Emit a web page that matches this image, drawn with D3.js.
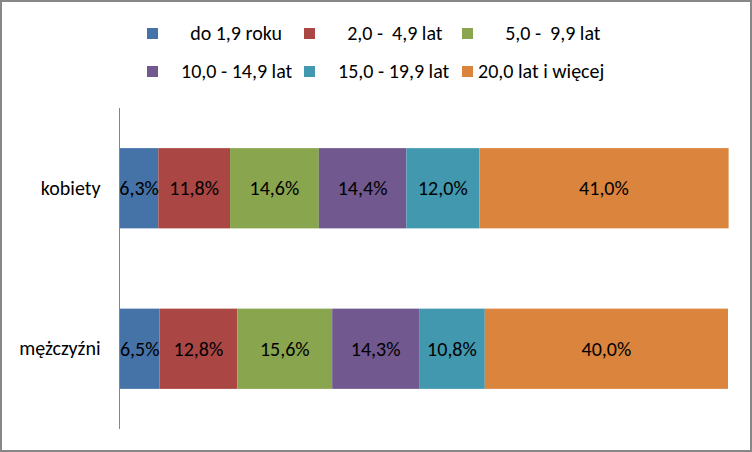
<!DOCTYPE html>
<html><head><meta charset="utf-8">
<script src="https://cdn.jsdelivr.net/npm/d3@7"></script>
<style>
html,body{margin:0;padding:0;background:#fff;}
svg text{font-family:Carlito, Calibri, Lato, sans-serif;white-space:pre;}
</style></head>
<body><svg id="c" width="752" height="452"></svg>
<script>
const categories = ["kobiety", "mężczyźni"];
const seriesNames = ["do 1,9 roku", "2,0 -  4,9 lat", "5,0 -  9,9 lat", "10,0 - 14,9 lat", "15,0 - 19,9 lat", "20,0 lat i więcej"];
const legendLabels = ["      do 1,9 roku", "      2,0 -  4,9 lat", "      5,0 -  9,9 lat", "    10,0 - 14,9 lat", "    15,0 - 19,9 lat", "20,0 lat i więcej"];
const kobiety = [6.3, 11.8, 14.6, 14.4, 12.0, 41.0];
const mezczyzni = [6.5, 12.8, 15.6, 14.3, 10.8, 40.0];
const colors = ["#4572A7", "#AA4643", "#89A54E", "#71588F", "#4198AF", "#DB843D"];

const values = [kobiety, mezczyzni];
const svg = d3.select("#c");
const W = 752, H = 452;
const FS = "20px";

svg.append("rect").attr("x",1).attr("y",1).attr("width",W-2).attr("height",H-2)
  .attr("fill","#fff").attr("stroke","#878787").attr("stroke-width",2);

const x = d3.scaleLinear().domain([0,100]).range([120,728]);
const y = d3.scaleBand().domain(categories).range([108,429]).paddingInner(0.5).paddingOuter(0.25);

const fmt = v => d3.format(".1f")(v).replace(".", ",") + "%";

categories.forEach((cat, ci) => {
  const row = values[ci];
  let acc = 0;
  const g = svg.append("g");
  row.forEach((v, si) => {
    const x0 = acc, x1 = acc + v;
    acc = x1;
    g.append("rect").attr("x", x(x0)).attr("y", y(cat))
      .attr("width", x(x1) - x(x0)).attr("height", y.bandwidth())
      .attr("fill", colors[si]);
  });
  acc = 0;
  row.forEach((v, si) => {
    const x0 = acc, x1 = acc + v;
    acc = x1;
    g.append("text").attr("x", (x(x0)+x(x1))/2).attr("y", y(cat)+y.bandwidth()/2)
      .attr("text-anchor","middle").attr("dominant-baseline","central")
      .attr("font-size",FS).attr("fill","#000").text(fmt(v));
  });
});

// category axis
const yAxis = d3.axisLeft(y).tickSize(0).tickPadding(19);
const ag = svg.append("g").attr("transform","translate(119.5,0)").call(yAxis);
ag.select(".domain").attr("stroke","#868686").attr("d","M0,108V429");
ag.selectAll("text").attr("font-size",FS).attr("fill","#000")
  .attr("font-family","Carlito, Calibri, Lato, sans-serif");

// legend
const colX = [147, 304, 462];
const rowY = [33, 71];
const lg = svg.append("g");
seriesNames.forEach((name, i) => {
  const cx = colX[i % 3], cy = rowY[Math.floor(i / 3)];
  lg.append("rect").attr("x", cx).attr("y", cy - 5).attr("width", 11).attr("height", 11).attr("fill", colors[i]);
  lg.append("text").attr("x", cx + 16).attr("y", cy).attr("dominant-baseline","central")
    .attr("font-size",FS).attr("fill","#000").text(legendLabels[i]);
});
</script></body></html>
